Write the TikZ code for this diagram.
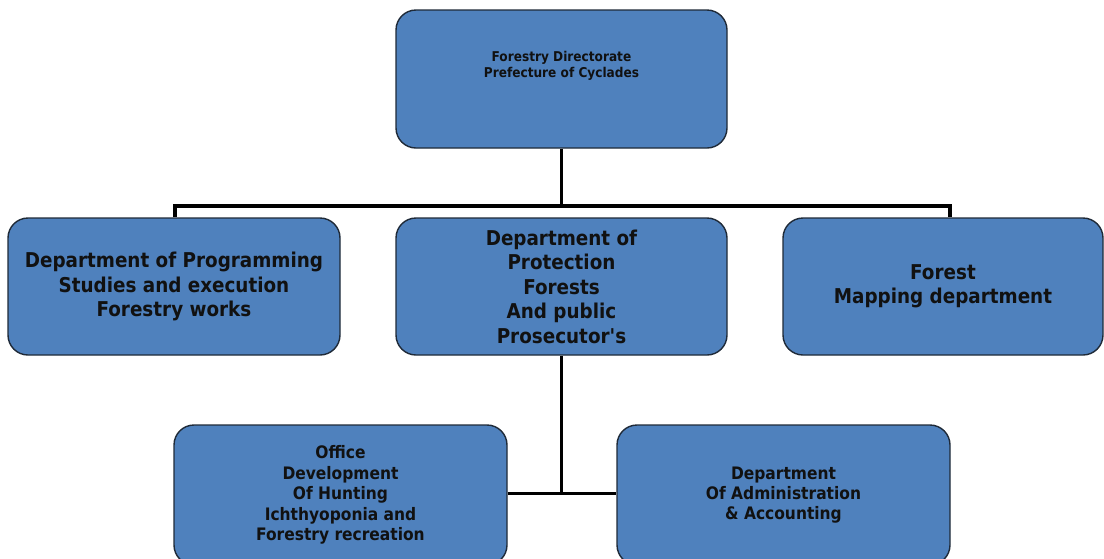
\documentclass[tikz,border=0pt]{standalone}
\usepackage{fontspec}
\setmainfont{DejaVu Sans Condensed}
\usetikzlibrary{calc}
\definecolor{boxblue}{HTML}{4F81BD}
\definecolor{boxedge}{HTML}{1F2A38}
\definecolor{inktext}{HTML}{111111}
\begin{document}
\begin{tikzpicture}[x=1pt,y=-1pt,
  unit/.style={draw=boxedge, line width=1.4pt, fill=boxblue, rounded corners=20pt,
    inner sep=0pt, align=center, text=inktext, font=\bfseries},
  bigtext/.style={font=\fontsize{20.4}{24.5}\selectfont\bfseries},
  midtext/.style={font=\fontsize{17.2}{20.4}\selectfont\bfseries},
  smalltext/.style={font=\fontsize{13.5}{16}\selectfont\bfseries},
  link/.style={draw=black, line width=3.2pt}]
\useasboundingbox (0,0) rectangle (1104,558);
\clip (0,0) rectangle (1104,558);

% head office
\node[unit, minimum width=331pt, minimum height=138pt] (head) at (561.5,79) {};
\node[smalltext, align=center, text=inktext] (headlabel) at (561.5,66)
  {Forestry Directorate\\Prefecture of Cyclades};

% departments
\node[unit, bigtext, minimum width=332pt, minimum height=137pt] (prog) at (174,286.5)
  {Department of Programming\\Studies and execution\\Forestry works};
\node[unit, bigtext, minimum width=331pt, minimum height=137pt] (prot) at (561.5,286.5)
  {Department of\\Protection\\Forests\\And public\\Prosecutor\textquotesingle s};
\node[unit, bigtext, minimum width=320pt, minimum height=137pt] (map) at (943,286.5)
  {Forest\\Mapping department};

% offices under the protection department
\node[unit, midtext, minimum width=333pt, minimum height=140pt] (hunt) at (340.5,495)
  {Office\\Development\\Of Hunting\\Ichthyoponia and\\Forestry recreation};
\node[unit, midtext, minimum width=333pt, minimum height=140pt] (admin) at (783.5,495)
  {Department\\Of Administration\\\& Accounting};

% connectors
\coordinate (bus) at (561.5,206);
\draw[link] (head.south) -- (bus);
\draw[link] ($(prog.north)+(1,0)$) |- (bus) -| ($(map.north)+(7,0)$);
\draw[link] (prot.south) -- ($(prot.south)+(0,138)$) coordinate (fork);
\draw[link] (hunt.east |- fork) -- (admin.west |- fork);
\end{tikzpicture}
\end{document}
